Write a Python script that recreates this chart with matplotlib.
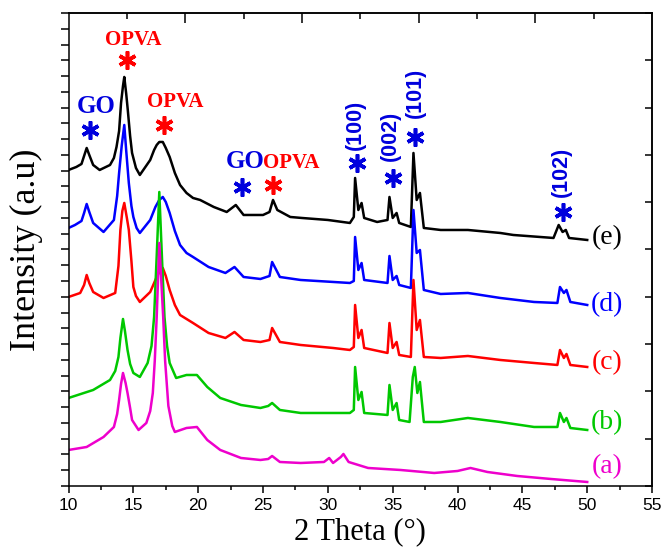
import numpy as np
import matplotlib
matplotlib.use("Agg")
import matplotlib.pyplot as plt
from matplotlib.ticker import MultipleLocator, FixedLocator, NullFormatter

# XRD patterns, offset (a.u.)
x_e = [10.0, 10.6, 11.0, 11.2, 11.4, 11.6, 11.9, 12.4, 13.2, 13.5, 13.7, 13.9, 14.05, 14.2, 14.3, 14.45,
       14.57, 14.75, 14.9, 15.2, 15.5, 16.3, 16.6, 16.8, 17.0, 17.27, 17.5, 17.8, 18.2, 18.6, 19.1, 19.6,
       20.15, 21.2, 22.2, 22.9, 23.5, 25.0, 25.5, 25.77, 26.1, 27.1, 28.0, 30.0, 31.7, 32.0,
       32.1, 32.35, 32.6, 32.8, 33.8, 34.6, 34.75, 35.0, 35.3, 35.5, 36.4, 36.6, 36.85, 37.1, 37.4, 38.7,
       40.8, 43.3, 44.3, 47.4, 47.8, 48.1, 48.35, 48.6, 50.0]
y_e = [316, 319, 322, 330, 338, 331, 321, 316, 321, 328, 339, 355, 383, 400, 409, 392,
       376, 350, 333, 318, 311, 326, 336, 341, 344, 344, 338, 329, 313, 301, 293, 288,
       286, 279, 274, 281, 271, 271, 274, 286, 276, 269, 268, 266, 263, 269,
       308, 276, 283, 268, 264, 266, 289, 268, 273, 263, 259, 333, 286, 293, 258, 256,
       256, 253, 251, 248, 261, 254, 256, 248, 246]

x_d = [10.0, 10.5, 11.0, 11.2, 11.4, 11.6, 11.9, 12.7, 13.5, 13.75, 13.9, 14.1, 14.3, 14.45, 14.65, 14.85,
       15.0, 15.25, 15.5, 16.3, 16.7, 17.0, 17.27, 17.5, 17.8, 18.2, 18.6, 19.1,
       19.6, 20.8, 22.1, 22.8, 23.5, 24.8, 25.5, 25.7, 26.3, 27.9, 31.7, 32.0, 32.1, 32.35, 32.6, 32.8,
       34.6, 34.75, 35.0, 35.3, 35.5, 36.4, 36.6, 36.85, 37.1, 37.4, 38.7, 40.8, 43.3, 45.9, 47.7, 47.9,
       48.2, 48.4, 48.7, 50.0]
y_d = [258, 261, 265, 273, 282, 274, 263, 254, 266, 290, 313, 340, 361, 335, 303, 280,
       269, 258, 253, 266, 279, 286, 289, 284, 273, 255, 241, 233,
       229, 219, 213, 219, 209, 207, 210, 224, 209, 206, 203, 205, 249, 216, 223, 206,
       203, 230, 206, 210, 201, 198, 276, 233, 236, 196, 192, 193, 188, 184, 183, 199,
       193, 196, 184, 181]

x_c = [10.0, 10.9, 11.2, 11.4, 11.6, 11.9, 12.7, 13.6, 13.85, 14.0, 14.15, 14.3, 14.5, 14.65, 14.85, 15.0,
       15.2, 15.5, 16.3, 16.6, 16.8, 17.0, 17.27, 17.5, 17.8, 18.2, 18.6,
       19.6, 20.8, 22.1, 22.8, 23.5, 24.8, 25.5, 25.7, 26.3, 27.9, 30.4, 31.7, 32.0, 32.1, 32.35, 32.6,
       32.8, 34.6, 34.75, 35.0, 35.3, 35.5, 36.4, 36.6, 36.85, 37.1, 37.4, 38.7, 40.8, 43.3, 45.9, 47.7,
       47.9, 48.2, 48.4, 48.7, 50.0]
y_c = [189, 193, 201, 211, 203, 194, 188, 193, 220, 256, 275, 283, 268, 256, 225, 199,
       190, 184, 194, 203, 209, 214, 218, 210, 196, 181, 171,
       163, 153, 148, 154, 146, 144, 146, 158, 144, 141, 138, 136, 139, 181, 148, 156,
       138, 133, 163, 138, 144, 131, 129, 206, 156, 166, 129, 128, 130, 126, 123, 121,
       136, 128, 132, 121, 119]

x_b = [10.0, 11.9, 13.2, 13.6, 13.85, 14.0, 14.2, 14.35, 14.55, 14.75, 15.0, 15.5, 16.1, 16.4, 16.6, 16.8,
       17.0, 17.2, 17.4, 17.6, 17.8, 18.3, 19.1, 19.9,
       20.7, 21.7, 23.3, 24.8, 25.4, 25.7, 26.3, 27.9, 31.7, 32.0, 32.1, 32.35, 32.6, 32.8, 34.6, 34.75,
       35.0, 35.3, 35.5, 36.3, 36.55, 36.7, 36.9, 37.1, 37.4, 38.7, 40.8, 43.3, 45.9, 47.7, 47.9, 48.2,
       48.4, 48.7, 50.0]
y_b = [88, 96, 106, 115, 129, 148, 167, 155, 136, 122, 113, 109, 123, 140, 169, 230,
       294, 230, 169, 140, 123, 108, 111, 111,
       99, 88, 81, 78, 80, 83, 76, 73, 73, 76, 119, 86, 94, 73, 71, 101,
       76, 83, 66, 64, 109, 119, 93, 104, 64, 64, 68, 64, 59, 59, 73, 64,
       68, 58, 56]

x_a = [10.0, 11.4, 12.7, 13.5, 13.75, 13.9, 14.05, 14.2, 14.4, 14.55, 14.75, 14.9, 15.4, 16.0, 16.3, 16.5,
       16.65, 16.8, 17.0, 17.3, 17.45, 17.7, 18.0, 18.2,
       19.1, 19.9, 20.7, 21.7, 23.3, 24.8, 25.4, 25.7, 26.3, 27.9, 29.7, 30.1, 30.4, 31.0, 31.2, 31.6,
       33.1, 35.6, 38.2, 40.0, 41.0, 42.3, 44.6, 47.2, 50.0]
y_a = [36, 39, 49, 59, 72, 86, 102, 113, 103, 93, 78, 66, 56, 63, 75, 93,
       125, 169, 243, 169, 125, 80, 60, 54,
       58, 59, 46, 36, 28, 26, 27, 30, 24, 23, 24, 28, 23, 29, 32, 24,
       18, 16, 13, 15, 18, 14, 10, 7, 4]

curve_labels = ["(e)", "(d)", "(c)", "(b)", "(a)"]
curve_colors = ["#000000", "#0000ff", "#ff0000", "#00c800", "#ee00cc"]
label_y = [248, 181, 123, 63, 19]

# peak markers: star position, label text, label position
phase_labels = ["GO", "OPVA", "OPVA", "GO", "OPVA"]
phase_colors = ["#0000dd", "#ff0000", "#ff0000", "#0000dd", "#ff0000"]
phase_star = [(11.66, 356), (14.5, 426), (17.36, 361), (23.38, 299), (25.77, 301)]
phase_text = [(12.16, 379), (15.0, 446), (18.2, 384), (23.6, 324), (27.2, 323)]

hkl_labels = ["(100)", "(002)", "(101)", "(102)"]
hkl_star = [(32.24, 323), (35.0, 308), (36.72, 349), (48.13, 274)]
hkl_text = [(32.1, 361), (34.79, 350), (36.72, 393), (47.98, 314)]

fig = plt.figure(figsize=(6.64, 5.52), dpi=100)
ax = fig.add_axes([0.1032, 0.1196, 0.8788, 0.8569])

series = [(x_e, y_e), (x_d, y_d), (x_c, y_c), (x_b, y_b), (x_a, y_a)]
for (xs, ys), col in zip(series, curve_colors):
    ax.plot(xs, ys, color=col, lw=1.8)

for lab, col, yy in zip(curve_labels, curve_colors, label_y):
    ax.text(51.55, yy, lab, color=col, fontsize=20, family="Liberation Serif",
            ha="center", va="center")

for lab, col, (sx, sy), (tx, ty) in zip(phase_labels, phase_colors, phase_star, phase_text):
    ax.plot(sx, sy, marker=(6, 2, 0), ms=13, mew=2.6, color=col)
    fs = 18 if lab == "GO" else 15
    ax.text(tx, ty, lab, color=col, fontsize=fs, fontweight="bold",
            family="Liberation Serif", ha="center", va="center")

for lab, (sx, sy), (tx, ty) in zip(hkl_labels, hkl_star, hkl_text):
    ax.plot(sx, sy, marker=(6, 2, 0), ms=13, mew=2.6, color="#0000dd")
    ax.text(tx, ty, lab, color="#0000dd", fontsize=15.5, fontweight="bold",
            family="Liberation Sans", rotation=90, ha="center", va="center")

ax.set_xlim(10, 55)
ax.set_ylim(0, 473)

ax.xaxis.set_major_locator(MultipleLocator(5))
ax.xaxis.set_minor_locator(MultipleLocator(2.5))
ax.yaxis.set_major_locator(MultipleLocator(473 / 30))
ax.yaxis.set_major_formatter(NullFormatter())
ax.tick_params(axis="x", which="major", direction="out", length=5, width=1.1,
               labelsize=12.5, pad=4)
ax.tick_params(axis="x", which="minor", direction="out", length=3, width=1.1)
ax.tick_params(axis="y", which="major", direction="out", length=5.5, width=1.1)
for lbl in ax.get_xticklabels():
    lbl.set_family("Liberation Sans")

top = ax.secondary_xaxis("top")
top.xaxis.set_major_locator(FixedLocator([19, 28, 37, 46]))
top.xaxis.set_minor_locator(FixedLocator([14.5, 23.5, 32.5, 41.5, 50.5]))
top.xaxis.set_major_formatter(NullFormatter())
top.tick_params(which="major", direction="in", length=7, width=1.1)
top.tick_params(which="minor", direction="in", length=4, width=1.1)

right = ax.secondary_yaxis("right")
right.yaxis.set_major_locator(MultipleLocator(47.3))
right.yaxis.set_major_formatter(NullFormatter())
right.tick_params(which="major", direction="in", length=5, width=1.1)

for s in list(ax.spines.values()) + list(top.spines.values()) + list(right.spines.values()):
    s.set_linewidth(1.1)

ax.set_xlabel("2 Theta (°)", fontsize=22, family="Liberation Serif")
ax.set_ylabel("Intensity (a.u)", fontsize=26, family="Liberation Serif")
ax.xaxis.set_label_coords(0.5, -0.066)
ax.yaxis.set_label_coords(-0.043, 0.5)

fig.savefig("out.png", dpi=100)
